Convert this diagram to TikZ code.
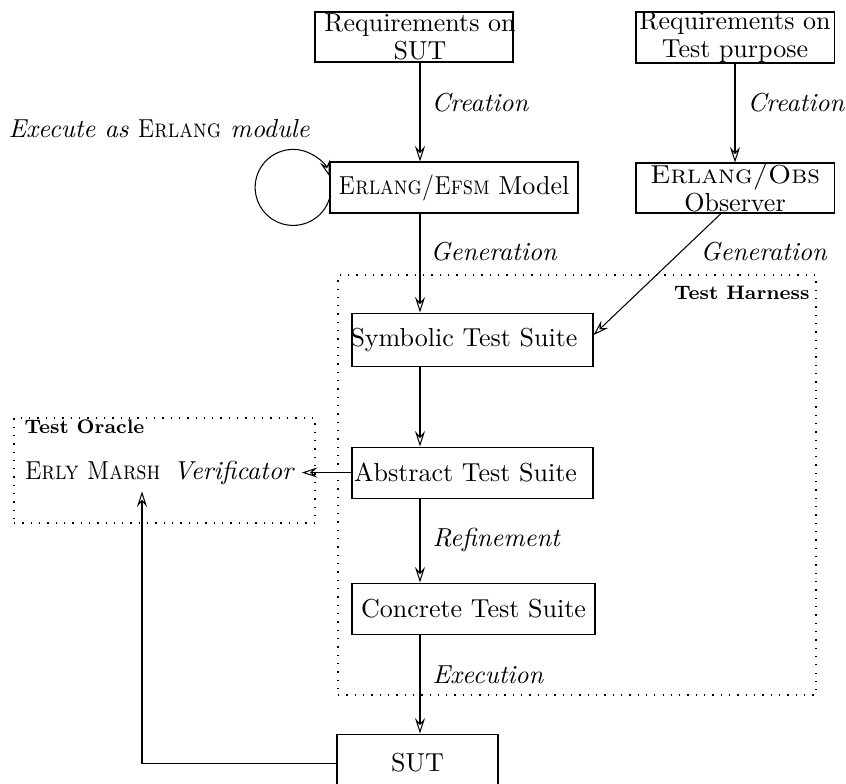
\documentclass[tikz,border=0pt]{standalone}
\usepackage{fix-cm}
\usetikzlibrary{arrows.meta,calc}
\newcommand\nsc[2][0.86]{\scalebox{#1}[1]{\textsc{#2}}}
\begin{document}
\begin{tikzpicture}[x=0.3846pt,y=-0.3846pt,
  box/.style={draw,inner sep=0pt,line width=0.4pt},
  wh/.style 2 args={minimum width=#1*0.3846pt,minimum height=#2*0.3846pt},
  txt/.style={inner sep=0pt,align=center},
  lab/.style={inner sep=0pt,anchor=west,font=\itshape},
  arr/.style={-{Stealth[open,length=6pt,width=3.9pt,inset=2.2pt]},line width=0.4pt},
  dots/.style={line width=0.5pt,dash pattern=on 0.5pt off 2.7pt},
  grp/.style={inner sep=0pt,font=\fontsize{7.5pt}{9pt}\selectfont\bfseries}]
\useasboundingbox (0,0) rectangle (846,783);

% frames
\node[draw,dots,wh={478}{420}] (harness) at (577,485) {};
\node[draw,dots,wh={301}{105}] (oracle) at (164.5,470.5) {};
\node[grp,anchor=east] (harl) at (810,293) {Test Harness};
\node[grp,anchor=west] (orl) at (24,427) {Test Oracle};

% boxes
\node[box,wh={198}{50}] (rsbox) at (414,37) {};
\node[txt] (rs) at (420,37) {Requirements on\\[-1.2pt]SUT};
\node[box,wh={198}{51},align=center] (rtp) at (735,37.5) {Requirements on\\[-1.2pt]Test purpose};
\node[box,wh={248}{51}] (mdl) at (454,187.5) {\nsc{Erlang/Efsm} Model};
\node[box,wh={198}{50},align=center] (obs) at (735,188) {\nsc[1.06]{Erlang/Obs}\\[-1.2pt]Observer};
\node[box,wh={241}{53}] (sym) at (472.5,339.5) {};
\node[txt] (symt) at (464,339.5) {Symbolic Test Suite};
\node[box,wh={241}{51}] (abs) at (472.5,472.5) {};
\node[txt] (abst) at (465.5,472.5) {Abstract Test Suite};
\node[box,wh={243}{51}] (con) at (473.5,608.5) {Concrete Test Suite};
\node[box,wh={161}{58}] (sut) at (417.5,763) {SUT};
\node[inner sep=2.5pt,anchor=west] (ver) at (18,472.5) {\nsc{Erly Marsh}\ \,\textit{Verificator}};

% connectors
\draw[arr] (rsbox.south -| rs) -- (mdl.north -| rs);
\draw[arr] (rtp.south) -- (obs.north);
\draw[arr] (mdl.south -| rs) -- (sym.north -| rs);
\draw[arr] ($(obs.south)+(-14,0)$) -- ($(sym.east)+(0,-4.5)$);
\draw[arr] (sym.south -| rs) -- (abs.north -| rs);
\draw[arr] (abs.west) -- (ver.east);
\draw[arr] (abs.south -| rs) -- (con.north -| rs);
\draw[arr] (con.south -| rs) -- (sut.north -| rs);
\coordinate (corner) at (142,763);
\draw[arr] (sut.west) -- (corner) -- (corner |- ver.south);
\draw[arr] ($(mdl.west)+(0,11)$) arc[start angle=17,end angle=343,radius=38];

% labels
\node[lab] (l1) at (431,103) {Creation};
\node[lab] (l2) at (747,103) {Creation};
\node[lab] (l3) at (430,252) {Generation};
\node[lab] (l4) at (700,252) {Generation};
\node[lab] (l5) at (432,540) {Refinement};
\node[lab] (l6) at (432,675) {Execution};
\node[lab] (l7) at (8,129) {Execute as {\upshape\nsc{Erlang}} module};
\end{tikzpicture}
\end{document}
